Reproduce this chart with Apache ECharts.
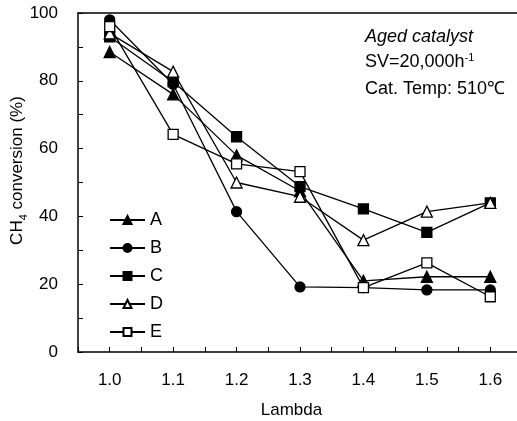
<!DOCTYPE html>
<html><head><meta charset="utf-8">
<script src="https://cdn.jsdelivr.net/npm/echarts@6/dist/echarts.min.js"></script>
<style>html,body{margin:0;padding:0;background:#fff}#c{width:517px;height:421px}</style>
</head><body><div id="c"></div>
<script>
const lambdas = [1.0, 1.1, 1.2, 1.3, 1.4, 1.5, 1.6];
const seriesA = [88.5, 76, 58, 47.5, 21, 22.2, 22.2];
const seriesB = [98, 79, 41.4, 19.2, 19, 18.3, 18.3];
const seriesC = [93, 79.7, 63.5, 48.8, 42.2, 35.3, 44];
const seriesD = [94, 82.7, 50, 45.8, 33, 41.4, 44];
const seriesE = [96, 64.2, 55.5, 53.2, 19, 26.3, 16.3];
const seriesNames = ['A', 'B', 'C', 'D', 'E'];
const yTicks = [0, 20, 40, 60, 80, 100];

const font = 'Liberation Sans, Arial, sans-serif';
const chart = echarts.init(document.getElementById('c'));
function pts(vals){ return lambdas.map((x,i)=>[x, vals[i]]); }
function mk(name, vals, symbol, filled){
  return {
    name, type:'line', data: pts(vals), symbol, symbolSize: symbol==='triangle'?11:10,
    lineStyle:{color:'#000', width:1.3},
    itemStyle:{color: filled?'#000':'#fff', borderColor:'#000', borderWidth:1.3},
    emphasis:{disabled:true}, animation:false, z: filled?3:4
  };
}
chart.setOption({
  animation:false,
  backgroundColor:'#fff',
  grid:{left:78, top:13, right:-5, bottom:69, containLabel:false, outerBoundsMode:'none'},
  legend:{
    orient:'vertical', left:104, top:206, itemGap:10, itemWidth:35, itemHeight:10,
    data: seriesNames,
    textStyle:{fontFamily:font, fontSize:18, color:'#000'}
  },
  xAxis:[{
    type:'value', min:0.95, max:1.65, interval:0.05,
    name:'Lambda', nameLocation:'middle', nameGap:50, nameMoveOverlap:false,
    nameTextStyle:{fontFamily:font, fontSize:17, color:'#000', padding:[0,17,0,0]},
    axisLine:{lineStyle:{color:'#000', width:1.5}},
    axisTick:{inside:true, length:5, lineStyle:{color:'#000'}},
    splitLine:{show:false},
    axisLabel:{margin:20, fontFamily:font, fontSize:17, color:'#000',
      formatter:v=>{const k=Math.round(v*20); return (k%2===0)? (k/20).toFixed(1):'';}}
  },{
    type:'value', position:'top', min:0.95, max:1.65,
    axisLine:{show:true, onZero:false, lineStyle:{color:'#000', width:1.5}},
    axisTick:{show:false}, axisLabel:{show:false}, splitLine:{show:false}
  }],
  yAxis:{
    type:'value', min:0, max:100, interval:10,
    name:'CH{sub|4} conversion (%)', nameLocation:'middle', nameGap:52, nameMoveOverlap:false,
    nameTextStyle:{fontFamily:font, fontSize:17, color:'#000', padding:[0,0,0,24],
      rich:{sub:{fontFamily:font, fontSize:11, color:'#000', verticalAlign:'bottom', padding:[0,0,-3,0]}}},
    axisLine:{show:true, lineStyle:{color:'#000', width:1.5}},
    axisTick:{inside:true, length:5, lineStyle:{color:'#000'}},
    splitLine:{show:false},
    axisLabel:{margin:20, fontFamily:font, fontSize:17, color:'#000',
      formatter:v=> (yTicks.indexOf(Math.round(v))>=0 ? String(Math.round(v)) : '')}
  },
  graphic:[
    {type:'text', left:365, top:28, style:{text:'Aged catalyst', fontFamily:font, fontSize:18, fontStyle:'italic', fill:'#000'}},
    {type:'text', left:365, top:52, style:{text:'SV=20,000h{sup|-1}', fontFamily:font, fontSize:18, fill:'#000',
      rich:{sup:{fontFamily:font, fontSize:11, fill:'#000', verticalAlign:'top', padding:[0,0,9,0]}}}},
    {type:'text', left:365, top:80, style:{text:'Cat. Temp: 510℃', fontFamily:font, fontSize:18, fill:'#000'}}
  ],
  series:[
    mk('A', seriesA, 'triangle', true),
    mk('B', seriesB, 'circle', true),
    mk('C', seriesC, 'rect', true),
    mk('D', seriesD, 'triangle', false),
    mk('E', seriesE, 'rect', false)
  ]
});
</script></body></html>
